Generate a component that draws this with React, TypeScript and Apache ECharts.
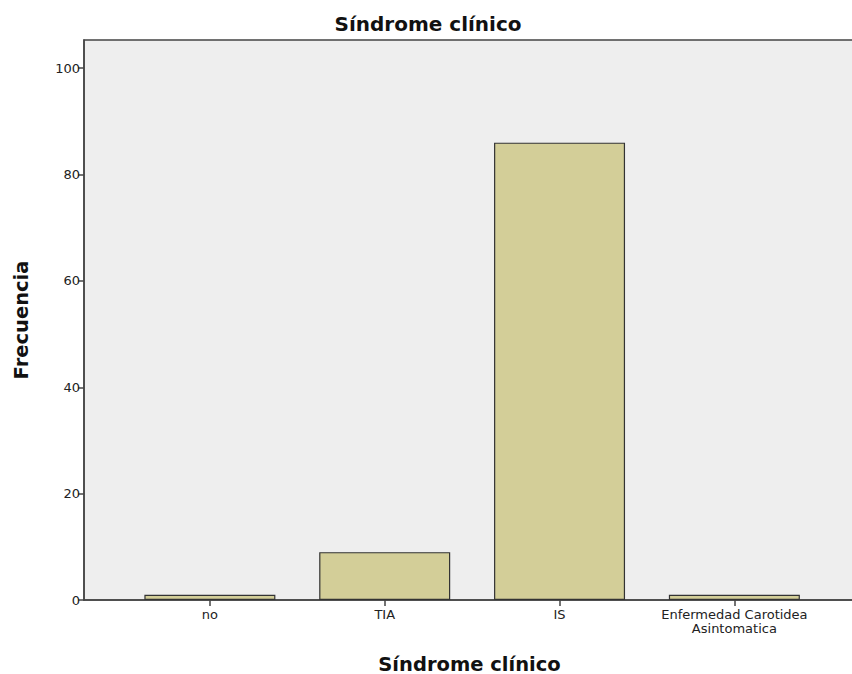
import React, { useEffect, useRef } from "react";
import * as echarts from "echarts";

const categories = ["no", "TIA", "IS", "Enfermedad Carotidea\nAsintomatica"];
const frequencies = [1, 9, 86, 1];
const yTicks = [0, 20, 40, 60, 80, 100];
const title = "Síndrome clínico";
const xName = "Síndrome clínico";
const yName = "Frecuencia";

export default function App() {
  const ref = useRef<HTMLDivElement>(null);
  useEffect(() => {
    document.body.style.margin = "0";
    const chart = echarts.init(ref.current!, null, { renderer: "svg" });
    const idx = categories.map((_, i) => i);
    const font = "DejaVu Sans";
    chart.setOption({
      animation: false,
      backgroundColor: "#ffffff",
      title: {
        text: title,
        left: 423,
        textAlign: "center",
        top: 9,
        textStyle: { fontFamily: font, fontSize: 20, fontWeight: "bold", color: "#111" },
      },
      grid: {
        left: 84,
        right: -3,
        top: 40,
        bottom: 74,
        outerBoundsMode: "none",
        containLabel: false,
        show: true,
        backgroundColor: "#eeeeee",
        borderColor: "#444",
        borderWidth: 1.5,
      },
      xAxis: {
        type: "value",
        min: -0.72,
        max: 3.69,
        name: xName,
        nameLocation: "middle",
        nameGap: 54,
        nameMoveOverlap: false,
        nameTextStyle: { fontFamily: font, fontSize: 19.5, fontWeight: "bold", color: "#111" },
        splitLine: { show: false },
        axisLine: { show: true, onZero: false, lineStyle: { color: "#444", width: 1.5 } },
        axisTick: { show: true, length: 6, lineStyle: { color: "#444", width: 1.5 }, customValues: idx },
        axisLabel: {
          customValues: idx,
          formatter: (v: number) => categories[Math.round(v)] ?? "",
          fontFamily: font,
          fontSize: 13,
          lineHeight: 14,
          color: "#222",
          margin: 7,
        },
      },
      yAxis: {
        type: "value",
        min: 0,
        max: 105.3,
        name: yName,
        nameLocation: "middle",
        nameGap: 53,
        nameMoveOverlap: false,
        nameTextStyle: { fontFamily: font, fontSize: 19.5, fontWeight: "bold", color: "#111" },
        splitLine: { show: false },
        axisLine: { show: true, onZero: false, lineStyle: { color: "#444", width: 1.5 } },
        axisTick: { show: true, length: 6, lineStyle: { color: "#444", width: 1.5 }, customValues: yTicks },
        axisLabel: {
          customValues: yTicks,
          fontFamily: font,
          fontSize: 13,
          color: "#222",
          margin: 4,
        },
      },
      series: [
        {
          type: "bar",
          barWidth: 131,
          data: frequencies.map((v, i) => [i, v]),
          itemStyle: { color: "#d3ce98", borderColor: "#333", borderWidth: 1.2 },
        },
      ],
    });
    return () => chart.dispose();
  }, []);
  return <div ref={ref} style={{ position: "absolute", left: 0, top: 0, width: 852, height: 674 }} />;
}
